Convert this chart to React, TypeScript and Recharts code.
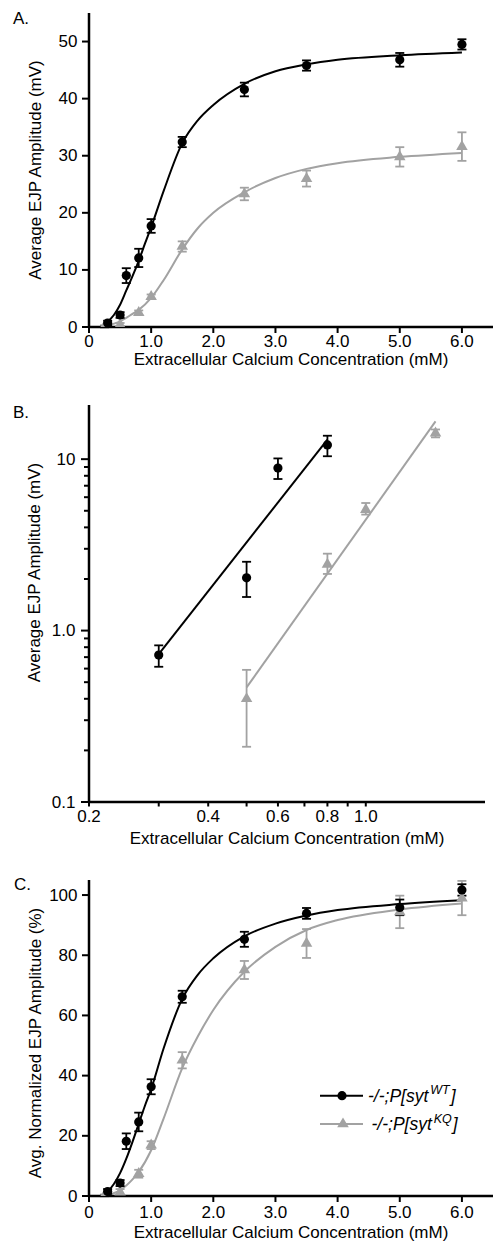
import React from 'react';
import { ComposedChart, Scatter, Line, XAxis, YAxis, ErrorBar, Legend, Label } from 'recharts';

const FONT = '"Liberation Sans", Arial, Helvetica, sans-serif';
const BLACK = '#000000';
const GRAY = '#a2a2a2';
const W = 493;

// ---------- Panel A: absolute EJP amplitude (mV) ----------
const concA_WT = [0.3, 0.5, 0.6, 0.8, 1.0, 1.5, 2.5, 3.5, 5.0, 6.0];
const ampA_WT = [0.7, 2.1, 9.0, 12.1, 17.7, 32.4, 41.6, 45.8, 46.8, 49.5];
const errA_WT = [0.4, 0.5, 1.3, 1.6, 1.2, 0.9, 1.2, 0.9, 1.2, 0.9];
const concA_KQ = [0.25, 0.5, 0.8, 1.0, 1.5, 2.5, 3.5, 5.0, 6.0];
const ampA_KQ = [0.1, 0.4, 2.5, 5.3, 14.1, 23.3, 26.0, 29.8, 31.6];
const errA_KQ = [0.2, 0.3, 0.4, 0.4, 0.9, 1.1, 1.4, 1.7, 2.5];
const fitConcA_WT = [0.25, 0.3, 0.4, 0.5, 0.6, 0.7, 0.8, 0.9, 1.0, 1.2, 1.5, 1.75, 2.0, 2.5, 3.0, 3.5, 4.0, 5.0, 6.0];
const fitAmpA_WT = [0.4, 0.9, 2.1, 3.9, 6.4, 8.9, 11.6, 14.6, 17.5, 23.8, 32.2, 36.2, 38.9, 42.6, 44.8, 46.0, 46.8, 47.6, 48.1];
const fitConcA_KQ = [0.3, 0.5, 0.7, 0.8, 1.0, 1.2, 1.5, 1.75, 2.0, 2.5, 3.0, 3.5, 4.0, 5.0, 6.0];
const fitAmpA_KQ = [0.3, 1.0, 2.3, 3.0, 5.1, 8.2, 13.6, 17.3, 20.0, 23.6, 26.1, 27.7, 28.7, 29.8, 30.5];

// ---------- Panel B: log-log ----------
const concB_WT = [0.3, 0.5, 0.6, 0.8];
const ampB_WT = [0.72, 2.03, 8.87, 12.1];
const lowB_WT = [0.615, 1.57, 7.66, 10.4];
const highB_WT = [0.82, 2.52, 10.1, 13.7];
const concB_KQ = [0.5, 0.8, 1.0, 1.5];
const ampB_KQ = [0.4, 2.43, 5.08, 14.2];
const lowB_KQ = [0.21, 2.14, 4.75, 13.4];
const highB_KQ = [0.59, 2.81, 5.55, 14.9];
const fitConcB_WT = [0.3, 0.8];
const fitAmpB_WT = [0.73, 13.0];
const fitConcB_KQ = [0.5, 1.5];
const fitAmpB_KQ = [0.466, 16.6];

// ---------- Panel C: normalized (%) ----------
const concC_WT = [0.3, 0.5, 0.6, 0.8, 1.0, 1.5, 2.5, 3.5, 5.0, 6.0];
const ampC_WT = [1.5, 4.3, 18.2, 24.6, 36.3, 66.2, 85.3, 93.9, 95.9, 101.7];
const errC_WT = [0.8, 1.0, 2.6, 3.1, 2.5, 2.0, 2.5, 1.8, 2.6, 1.9];
const concC_KQ = [0.25, 0.5, 0.8, 1.0, 1.5, 2.5, 3.5, 5.0, 6.0];
const ampC_KQ = [0.2, 1.3, 7.4, 16.9, 45.1, 75.1, 83.9, 94.4, 99.0];
const errC_KQ = [0.3, 1.0, 1.3, 1.3, 2.7, 3.0, 4.8, 5.4, 5.7];
const fitConcC_WT = [0.25, 0.3, 0.4, 0.5, 0.6, 0.7, 0.8, 0.9, 1.0, 1.2, 1.5, 1.75, 2.0, 2.5, 3.0, 3.5, 4.0, 5.0, 6.0];
const fitAmpC_WT = [0.6, 1.5, 4.0, 7.6, 12.4, 18.0, 24.0, 30.0, 35.5, 49.0, 65.5, 73.5, 79.0, 86.3, 90.5, 93.2, 95.0, 97.0, 98.3];
const fitConcC_KQ = [0.3, 0.5, 0.7, 0.8, 1.0, 1.2, 1.5, 1.75, 2.0, 2.5, 3.0, 3.5, 4.0, 5.0, 6.0];
const fitAmpC_KQ = [0.4, 1.9, 5.5, 8.0, 15.2, 25.7, 42.5, 53.0, 61.8, 74.5, 82.8, 88.4, 91.7, 95.2, 97.2];

// ---------- ticks & labels ----------
const linXTicks = [0, 1, 2, 3, 4, 5, 6];
const yTicksA = [0, 10, 20, 30, 40, 50];
const yTicksC = [0, 20, 40, 60, 80, 100];
const logXTicksB = [0.2, 0.3, 0.4, 0.5, 0.6, 0.7, 0.8, 0.9, 1.0];
const logXLabelsB = [0.2, 0.4, 0.6, 0.8, 1.0];
const logYTicksB = [0.1, 0.2, 0.3, 0.4, 0.5, 0.6, 0.7, 0.8, 0.9, 1, 2, 3, 4, 5, 6, 7, 8, 9, 10];
const logYLabelsB = [0.1, 1, 10];
const xTitle = 'Extracellular Calcium Concentration (mM)';
const yTitleA = 'Average EJP Amplitude (mV)';
const yTitleB = 'Average EJP Amplitude (mV)';
const yTitleC = 'Avg. Normalized EJP Amplitude (%)';
const seriesWT = { pre: '-/-;P[syt', sup: 'WT', post: ']' };
const seriesKQ = { pre: '-/-;P[syt', sup: 'KQ', post: ']' };

// ---------- helpers ----------
const pts = (xs: number[], ys: number[], es?: number[]) =>
  xs.map((x, i) => ({ x, y: ys[i], e: es ? es[i] : 0 }));
const ptsAsym = (xs: number[], ys: number[], lo: number[], hi: number[]) =>
  xs.map((x, i) => ({ x, y: ys[i], e: [ys[i] - lo[i], hi[i] - ys[i]] }));

const Dot = (p: any) => <circle cx={p.cx} cy={p.cy} r={4.6} fill={BLACK} />;
const Tri = (p: any) => {
  const s = 11.5;
  const h = s * 0.866;
  const { cx, cy } = p;
  return (
    <polygon
      points={`${cx},${cy - (h * 2) / 3} ${cx - s / 2},${cy + h / 3} ${cx + s / 2},${cy + h / 3}`}
      fill={GRAY}
    />
  );
};

const txt = { fontFamily: FONT, fontSize: 17, fill: BLACK };

const LinYTick = (p: any) => {
  const { x, y, payload } = p;
  return (
    <g>
      <line x1={x - 7} x2={x} y1={y} y2={y} stroke={BLACK} strokeWidth={2} />
      <text x={x - 11.5} y={y} textAnchor="end" dominantBaseline="central" {...txt}>
        {payload.value}
      </text>
    </g>
  );
};

const LinXTick = (p: any) => {
  const { x, y, payload, dy } = p;
  const v = payload.value;
  return (
    <g>
      <line x1={x} x2={x} y1={y} y2={y + 6} stroke={BLACK} strokeWidth={2} />
      <text x={x} y={y + dy} textAnchor="middle" dominantBaseline="central" {...txt}>
        {v === 0 ? '0' : v.toFixed(1)}
      </text>
    </g>
  );
};

const LogXTick = (p: any) => {
  const { x, y, payload } = p;
  const v = payload.value;
  const lab = logXLabelsB.includes(v);
  return (
    <g>
      <line x1={x} x2={x} y1={y} y2={y + 4.5} stroke={BLACK} strokeWidth={2} />
      {lab && (
        <text x={x} y={y + 14.5} textAnchor="middle" dominantBaseline="central" {...txt}>
          {v.toFixed(1)}
        </text>
      )}
    </g>
  );
};

const LogYTick = (p: any) => {
  const { x, y, payload } = p;
  const v = payload.value;
  const lab = logYLabelsB.includes(v);
  return (
    <g>
      <line x1={x - (lab ? 8 : 5)} x2={x} y1={y} y2={y} stroke={BLACK} strokeWidth={2} />
      {lab && (
        <text x={x - 13.5} y={y} textAnchor="end" dominantBaseline="central" {...txt}>
          {v === 10 ? '10' : v.toFixed(1)}
        </text>
      )}
    </g>
  );
};

const YTitle = (p: any) => {
  const vb = p.viewBox || {};
  const x = (vb.x || 0) + p.cx;
  const y = vb.y + vb.height / 2 + (p.shift || 0);
  return (
    <text
      x={x}
      y={y}
      transform={`rotate(-90 ${x} ${y})`}
      textAnchor="middle"
      dominantBaseline="central"
      {...txt}
    >
      {p.text}
    </text>
  );
};

const XTitle = (p: any) => {
  const vb = p.viewBox || {};
  const x = vb.x + vb.width / 2;
  const y = vb.y + p.off;
  return (
    <text x={x} y={y} textAnchor="middle" dominantBaseline="central" {...txt}>
      {p.text}
    </text>
  );
};

const LegendRow = ({ y, s, color, marker }: any) => (
  <g>
    <line x1={2} x2={45} y1={y} y2={y} stroke={color} strokeWidth={2} />
    {marker === 'circle' ? (
      <circle cx={24} cy={y} r={4.6} fill={color} />
    ) : (
      <polygon points={`${25},${y - 6.6} ${19.2},${y + 3.3} ${30.8},${y + 3.3}`} fill={color} />
    )}
    <text
      x={marker === 'circle' ? 50 : 53.5}
      y={y + 6}
      fontFamily={FONT}
      fontSize={17.5}
      fontStyle="italic"
      fill={BLACK}
    >
      {s.pre}
      <tspan dx={2} dy={-7.5} fontSize={12.5}>
        {s.sup}
      </tspan>
      <tspan dx={1} dy={7.5}>
        {s.post}
      </tspan>
    </text>
  </g>
);

const LegendContent = () => (
  <svg width={175} height={60} style={{ display: 'block', overflow: 'visible' }}>
    <LegendRow y={15.7} s={seriesWT} color={BLACK} marker="circle" />
    <LegendRow y={44} s={seriesKQ} color={GRAY} marker="tri" />
  </svg>
);

const axisLine = { stroke: BLACK, strokeWidth: 2.5 };
const panelLabel = (t: string, left: number, top: number) => (
  <div
    style={{
      position: 'absolute',
      left,
      top,
      fontFamily: FONT,
      fontSize: 17,
      lineHeight: '20px',
      color: BLACK,
    }}
  >
    {t}
  </div>
);

const LinearPanel = ({
  height,
  marginTop,
  xAxisH,
  yMax,
  yTicks,
  yTitle,
  yShift,
  tickDy,
  titleOff,
  wt,
  kq,
  fitWT,
  fitKQ,
  legendTop,
}: any) => (
  <ComposedChart width={W} height={height} margin={{ top: marginTop, right: 0, bottom: 0, left: 0 }}>
    <XAxis
      type="number"
      dataKey="x"
      domain={[0, 6.5]}
      ticks={linXTicks}
      interval={0}
      allowDataOverflow
      tickLine={false}
      tickSize={0}
      tickMargin={0}
      axisLine={axisLine}
      tick={<LinXTick dy={tickDy} />}
      height={xAxisH}
      label={<Label content={<XTitle off={titleOff} text={xTitle} />} />}
    />
    <YAxis
      type="number"
      dataKey="y"
      domain={[0, yMax]}
      ticks={yTicks}
      interval={0}
      allowDataOverflow
      tickLine={false}
      tickSize={0}
      tickMargin={0}
      axisLine={axisLine}
      tick={<LinYTick />}
      width={89}
      label={<Label content={<YTitle cx={35} shift={yShift} text={yTitle} />} />}
    />
    <Line data={fitWT} dataKey="y" type="monotone" stroke={BLACK} strokeWidth={2} dot={false} isAnimationActive={false} />
    <Line data={fitKQ} dataKey="y" type="monotone" stroke={GRAY} strokeWidth={2} dot={false} isAnimationActive={false} />
    <Scatter data={kq} dataKey="y" shape={<Tri />} isAnimationActive={false}>
      <ErrorBar dataKey="e" direction="y" width={4.5} stroke={GRAY} strokeWidth={1.8} />
    </Scatter>
    <Scatter data={wt} dataKey="y" shape={<Dot />} isAnimationActive={false}>
      <ErrorBar dataKey="e" direction="y" width={4.5} stroke={BLACK} strokeWidth={1.8} />
    </Scatter>
    {legendTop !== undefined && (
      <Legend
        content={<LegendContent />}
        layout="vertical"
        verticalAlign="middle"
        align="center"
        wrapperStyle={{ left: 318, top: legendTop, width: 175, height: 60 }}
      />
    )}
  </ComposedChart>
);

const LogPanel = () => (
  <ComposedChart width={W} height={455} margin={{ top: 10, right: 8, bottom: 0, left: 0 }}>
    <XAxis
      type="number"
      dataKey="x"
      scale="log"
      domain={[0.2, 2]}
      ticks={logXTicksB}
      interval={0}
      allowDataOverflow
      tickLine={false}
      tickSize={0}
      tickMargin={0}
      axisLine={axisLine}
      tick={<LogXTick />}
      height={48}
      label={<Label content={<XTitle off={36.5} text={xTitle} />} />}
    />
    <YAxis
      type="number"
      dataKey="y"
      scale="log"
      domain={[0.1, 20.7]}
      ticks={logYTicksB}
      interval={0}
      allowDataOverflow
      tickLine={false}
      tickSize={0}
      tickMargin={0}
      axisLine={axisLine}
      tick={<LogYTick />}
      width={89}
      label={<Label content={<YTitle cx={34} shift={-31} text={yTitleB} />} />}
    />
    <Line data={pts(fitConcB_WT, fitAmpB_WT)} dataKey="y" type="linear" stroke={BLACK} strokeWidth={2} dot={false} isAnimationActive={false} />
    <Line data={pts(fitConcB_KQ, fitAmpB_KQ)} dataKey="y" type="linear" stroke={GRAY} strokeWidth={2} dot={false} isAnimationActive={false} />
    <Scatter data={ptsAsym(concB_KQ, ampB_KQ, lowB_KQ, highB_KQ)} dataKey="y" shape={<Tri />} isAnimationActive={false}>
      <ErrorBar dataKey="e" direction="y" width={4.5} stroke={GRAY} strokeWidth={1.8} />
    </Scatter>
    <Scatter data={ptsAsym(concB_WT, ampB_WT, lowB_WT, highB_WT)} dataKey="y" shape={<Dot />} isAnimationActive={false}>
      <ErrorBar dataKey="e" direction="y" width={4.5} stroke={BLACK} strokeWidth={1.8} />
    </Scatter>
  </ComposedChart>
);

export default function App() {
  return (
    <div style={{ position: 'absolute', left: 0, top: 0, width: W, height: 1243, background: '#fff' }}>
      <div style={{ position: 'absolute', left: 0, top: 0 }}>
        <LinearPanel
          height={370}
          marginTop={13}
          xAxisH={43}
          yMax={55}
          yTicks={yTicksA}
          yTitle={yTitleA}
          yShift={0}
          tickDy={14.5}
          titleOff={32}
          wt={pts(concA_WT, ampA_WT, errA_WT)}
          kq={pts(concA_KQ, ampA_KQ, errA_KQ)}
          fitWT={pts(fitConcA_WT, fitAmpA_WT)}
          fitKQ={pts(fitConcA_KQ, fitAmpA_KQ)}
        />
      </div>
      <div style={{ position: 'absolute', left: 0, top: 395 }}>
        <LogPanel />
      </div>
      <div style={{ position: 'absolute', left: 0, top: 850 }}>
        <LinearPanel
          height={393}
          marginTop={30}
          xAxisH={47}
          yMax={105}
          yTicks={yTicksC}
          yTitle={yTitleC}
          yShift={5}
          tickDy={16.5}
          titleOff={36.5}
          wt={pts(concC_WT, ampC_WT, errC_WT)}
          kq={pts(concC_KQ, ampC_KQ, errC_KQ)}
          fitWT={pts(fitConcC_WT, fitAmpC_WT)}
          fitKQ={pts(fitConcC_KQ, fitAmpC_KQ)}
          legendTop={230}
        />
      </div>
      {panelLabel('A.', 13, 9)}
      {panelLabel('B.', 13, 403)}
      {panelLabel('C.', 14, 875)}
    </div>
  );
}
